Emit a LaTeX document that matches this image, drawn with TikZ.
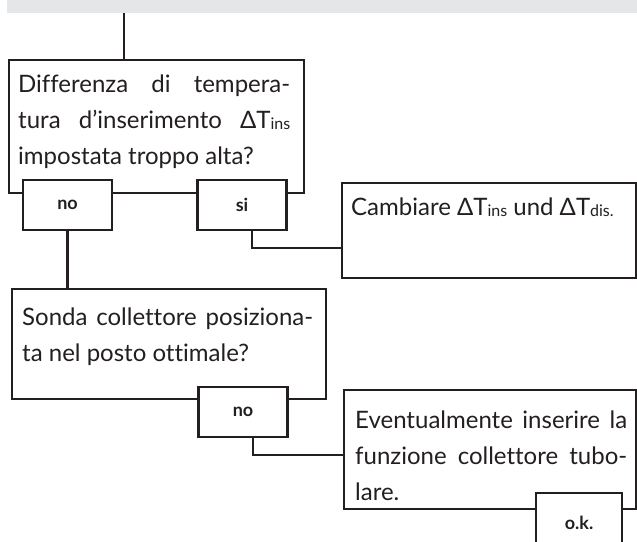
\documentclass[tikz,border=0pt]{standalone}
\usepackage{fontspec}
\setmainfont{Lato}[Ligatures=NoCommon]
\usepackage{tikz}
\definecolor{bandgray}{HTML}{E5E6E8}
\definecolor{ink}{HTML}{231F20}
\newcommand{\smalltxt}[1]{\raisebox{-1pt}{\fontsize{16}{16}\selectfont #1}}
\tikzset{
  frame/.style={draw=ink,line width=2.4pt,fill=white,rectangle,inner sep=0pt,anchor=north west},
  answer/.style={draw=ink,line width=2.4pt,fill=white,rectangle,inner sep=0pt,minimum width=89pt,minimum height=50pt,text=ink,font=\fontsize{18}{18}\selectfont\bfseries},
  boxtext/.style={anchor=north west,inner sep=0pt,align=justify,text=ink,
    font=\fontsize{24}{36}\selectfont},
  wire/.style={draw=ink,line width=2.4pt}
}

\begin{document}
\begin{tikzpicture}[x=1pt,y=-1pt]
\useasboundingbox (0,0) rectangle (637,541);
\fill[bandgray] (7,0) rectangle (637,13);
\coordinate (start) at (124,13);
% first question
\node[frame,minimum width=295pt,minimum height=133pt] (q1) at (8,59) {};
\node[boxtext,text width=272pt] (q1t) at ([shift={(10pt,-16pt)}]q1.north west)
  {\tolerance=9999 Differenza di tempera-\linebreak tura d’inserimento ΔT\smalltxt{ins}\linebreak impostata troppo alta?};
\node[answer] (no1) at (67.5,205) {no};
\node[answer] (si1) at (242,205) {si};
\draw[wire] (start) -- (start |- q1.north);
% action 1
\node[frame,minimum width=294pt,minimum height=95pt] (a1) at (341,182) {};
\node[boxtext,text width=276pt] (a1t) at ([shift={(10pt,-16pt)}]a1.north west)
  {\tolerance=9999 Cambiare ΔT\smalltxt{ins} und ΔT\smalltxt{dis.}};
\draw[wire] ([xshift=10pt]si1.south) |- ([yshift=-17pt]a1.west);
% second question
\node[frame,minimum width=314pt,minimum height=110pt] (q2) at (11,288) {};
\node[boxtext,text width=291pt] (q2t) at ([shift={(11pt,-20pt)}]q2.north west)
  {\tolerance=9999 Sonda collettore posiziona-\linebreak ta nel posto ottimale?};
\node[answer] (no2) at (243,412) {no};
\draw[wire] (no1.south) -- (no1.south |- q2.north);
% action 2
\node[frame,minimum width=292pt,minimum height=119pt] (a2) at (343,389) {};
\node[boxtext,text width=272pt] (a2t) at ([shift={(12pt,-22pt)}]a2.north west)
  {\tolerance=9999 Eventualmente inserire la\linebreak funzione collettore tubo-\linebreak lare.};
\node[answer,minimum width=86pt,minimum height=60pt] (ok) at (579,523) {o.k.};
\draw[wire] ([xshift=10pt]no2.south) |- ([yshift=-5.5pt]a2.west);
\end{tikzpicture}
\end{document}
